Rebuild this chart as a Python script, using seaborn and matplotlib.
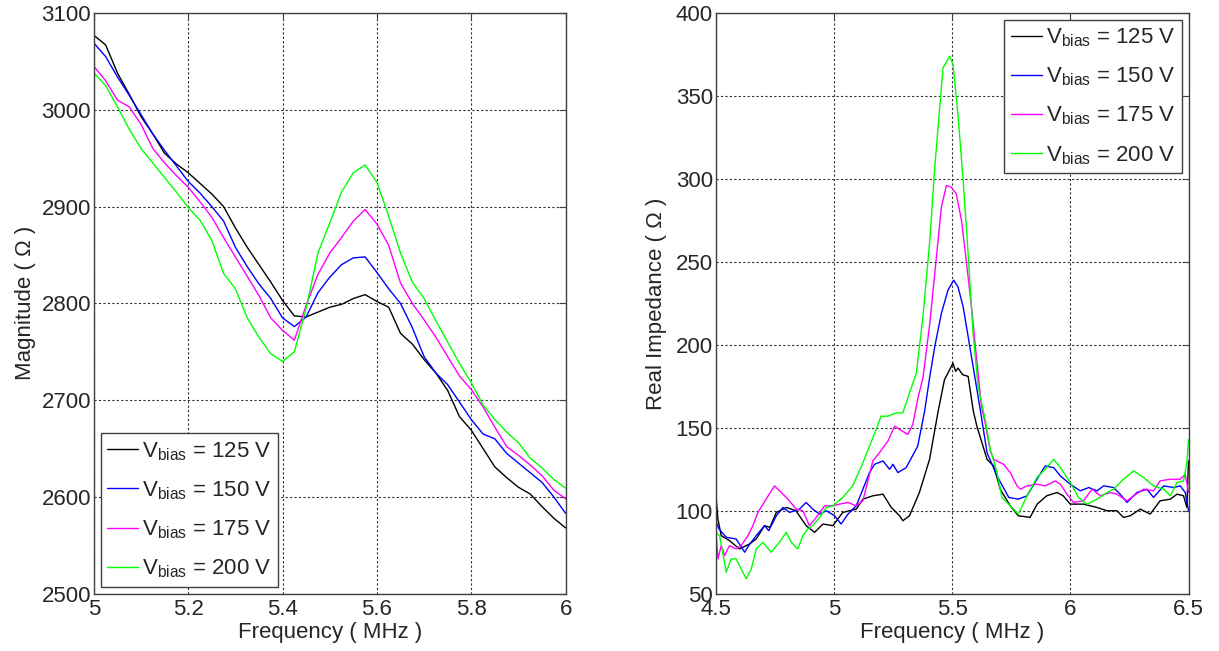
import numpy as np
import pandas as pd
import matplotlib
matplotlib.use('Agg')
import matplotlib.pyplot as plt
import seaborn as sns

# ------------------------------------------------------------------
# data
# ------------------------------------------------------------------

# left panel: impedance magnitude, 5 - 6 MHz (0.025 MHz steps)
freq_mag = [5.000, 5.025, 5.050, 5.075, 5.100, 5.125, 5.150, 5.175, 5.200, 5.225,
            5.250, 5.275, 5.300, 5.325, 5.350, 5.375, 5.400, 5.425, 5.450, 5.475,
            5.500, 5.525, 5.550, 5.575, 5.600, 5.625, 5.650, 5.675, 5.700, 5.725,
            5.750, 5.775, 5.800, 5.825, 5.850, 5.875, 5.900, 5.925, 5.950, 5.975,
            6.000]
mag_125 = [3077, 3067, 3038, 3016, 2993, 2975, 2955, 2944, 2935, 2924,
           2913, 2900, 2878, 2858, 2840, 2822, 2803, 2787, 2786, 2791,
           2796, 2799, 2805, 2809, 2802, 2796, 2769, 2758, 2742, 2728,
           2710, 2683, 2669, 2650, 2631, 2620, 2610, 2603, 2590, 2578,
           2568]
mag_150 = [3069, 3055, 3034, 3015, 2995, 2975, 2958, 2942, 2926, 2914,
           2900, 2885, 2858, 2838, 2820, 2805, 2785, 2776, 2786, 2811,
           2827, 2840, 2847, 2848, 2832, 2815, 2800, 2775, 2745, 2728,
           2716, 2698, 2680, 2665, 2660, 2645, 2635, 2625, 2615, 2600,
           2583]
mag_175 = [3045, 3030, 3010, 3003, 2985, 2960, 2945, 2932, 2920, 2905,
           2889, 2868, 2848, 2828, 2808, 2785, 2772, 2762, 2798, 2830,
           2852, 2868, 2885, 2897, 2882, 2860, 2821, 2800, 2783, 2765,
           2745, 2725, 2711, 2693, 2672, 2652, 2643, 2633, 2622, 2607,
           2598]
mag_200 = [3038, 3025, 3003, 2980, 2960, 2945, 2930, 2915, 2899, 2886,
           2865, 2831, 2815, 2785, 2765, 2748, 2740, 2750, 2795, 2852,
           2883, 2915, 2935, 2943, 2925, 2890, 2852, 2822, 2805, 2782,
           2760, 2738, 2718, 2695, 2680, 2667, 2656, 2640, 2630, 2618,
           2609]

# right panel: real impedance, 4.5 - 6.5 MHz
freq_125 = [4.500, 4.503, 4.510, 4.524, 4.559, 4.601, 4.644, 4.672, 4.707, 4.730,
            4.757, 4.800, 4.840, 4.883, 4.919, 4.954, 4.996, 5.038, 5.095, 5.123,
            5.165, 5.208, 5.243, 5.278, 5.292, 5.320, 5.362, 5.405, 5.440, 5.468,
            5.490, 5.504, 5.515, 5.525, 5.545, 5.568, 5.590, 5.605, 5.648, 5.676,
            5.704, 5.746, 5.780, 5.830, 5.860, 5.900, 5.944, 5.970, 6.000, 6.056,
            6.113, 6.155, 6.197, 6.225, 6.254, 6.296, 6.338, 6.380, 6.423, 6.451,
            6.479, 6.493, 6.500]
real_125 = [100, 107, 95, 85, 82, 77, 80, 83, 91, 90,
            99, 102, 100, 91, 87, 92, 91, 99, 101, 107,
            109, 110, 102, 97, 94, 97, 111, 131, 159, 179,
            185, 189, 184, 186, 182, 181, 160, 151, 131, 127,
            113, 103, 97, 96, 104, 109, 111, 109, 104, 104,
            102, 100, 100, 96, 97, 101, 98, 106, 107, 110,
            109, 102, 130]

freq_150 = [4.500, 4.515, 4.545, 4.587, 4.623, 4.640, 4.672, 4.707, 4.725, 4.757,
            4.785, 4.813, 4.855, 4.883, 4.911, 4.940, 4.968, 5.003, 5.031, 5.060,
            5.095, 5.123, 5.151, 5.172, 5.208, 5.236, 5.250, 5.271, 5.306, 5.355,
            5.384, 5.405, 5.427, 5.455, 5.483, 5.507, 5.525, 5.547, 5.568, 5.589,
            5.617, 5.648, 5.690, 5.740, 5.780, 5.817, 5.859, 5.894, 5.930, 5.958,
            6.000, 6.042, 6.078, 6.113, 6.141, 6.183, 6.211, 6.240, 6.282, 6.324,
            6.352, 6.395, 6.437, 6.465, 6.486, 6.500]
real_150 = [94, 89, 84, 83, 75, 79, 85, 91, 88, 97,
            102, 99, 101, 105, 101, 98, 100, 97, 92, 98,
            103, 113, 123, 128, 130, 125, 128, 123, 126, 139,
            160, 180, 199, 219, 233, 239, 235, 223, 205, 187,
            163, 135, 121, 108, 107, 109, 119, 127, 126, 121,
            116, 112, 114, 112, 115, 114, 110, 105, 111, 113,
            108, 115, 114, 115, 111, 100]

freq_175 = [4.500, 4.510, 4.524, 4.538, 4.559, 4.587, 4.608, 4.637, 4.658, 4.679,
            4.714, 4.749, 4.778, 4.806, 4.841, 4.869, 4.897, 4.926, 4.961, 4.996,
            5.024, 5.060, 5.095, 5.123, 5.144, 5.165, 5.193, 5.229, 5.257, 5.278,
            5.313, 5.334, 5.356, 5.377, 5.406, 5.434, 5.455, 5.476, 5.497, 5.518,
            5.540, 5.560, 5.582, 5.603, 5.624, 5.640, 5.662, 5.676, 5.718, 5.746,
            5.775, 5.789, 5.817, 5.859, 5.894, 5.937, 5.958, 5.986, 6.014, 6.056,
            6.092, 6.127, 6.169, 6.197, 6.240, 6.268, 6.310, 6.352, 6.380, 6.423,
            6.465, 6.486, 6.500]
real_175 = [91, 71, 79, 73, 79, 77, 79, 85, 91, 99,
            107, 115, 111, 107, 101, 100, 91, 96, 103, 103,
            104, 105, 103, 106, 118, 130, 135, 142, 151, 149,
            146, 152, 168, 180, 213, 253, 283, 296, 295, 291,
            275, 251, 223, 193, 163, 153, 136, 131, 128, 123,
            115, 113, 115, 116, 115, 118, 116, 110, 105, 106,
            113, 109, 111, 110, 106, 109, 113, 112, 118, 119,
            119, 122, 111]

freq_200 = [4.500, 4.517, 4.545, 4.566, 4.587, 4.608, 4.630, 4.651, 4.672, 4.700,
            4.735, 4.770, 4.799, 4.820, 4.848, 4.869, 4.890, 4.911, 4.940, 4.968,
            4.996, 5.038, 5.080, 5.123, 5.151, 5.179, 5.200, 5.229, 5.264, 5.292,
            5.320, 5.349, 5.377, 5.406, 5.427, 5.448, 5.462, 5.490, 5.504, 5.525,
            5.547, 5.568, 5.589, 5.610, 5.625, 5.640, 5.662, 5.690, 5.711, 5.746,
            5.780, 5.817, 5.859, 5.894, 5.930, 5.958, 6.000, 6.035, 6.070, 6.113,
            6.155, 6.183, 6.225, 6.268, 6.310, 6.352, 6.395, 6.423, 6.451, 6.479,
            6.493, 6.500]
real_200 = [87, 85, 63, 71, 71, 65, 59, 65, 77, 81,
            75, 81, 87, 81, 77, 85, 89, 91, 96, 102,
            103, 108, 115, 129, 139, 149, 157, 157, 159, 159,
            171, 183, 217, 263, 307, 343, 367, 374, 369, 339,
            299, 255, 207, 175, 165, 155, 137, 123, 108, 103,
            98, 109, 120, 125, 131, 126, 117, 108, 104, 107,
            111, 113, 119, 124, 120, 115, 113, 109, 117, 118,
            129, 143]

bias_labels = ['125', '150', '175', '200']
line_colors = ['#000000', '#0000ff', '#ff00ff', '#00ff00']

# ------------------------------------------------------------------
# style
# ------------------------------------------------------------------
sns.set_style('white')
plt.rcParams['font.family'] = ['Liberation Sans', 'DejaVu Sans']
plt.rcParams['mathtext.fontset'] = 'custom'
plt.rcParams['mathtext.rm'] = 'Liberation Sans'
plt.rcParams['mathtext.it'] = 'Liberation Sans'
plt.rcParams['xtick.direction'] = 'in'
plt.rcParams['ytick.direction'] = 'in'

FS = 16
LEG_KW = dict(fontsize=16, handlelength=1.4, handletextpad=0.15,
              labelspacing=0.75, borderpad=0.3, borderaxespad=0.3,
              fancybox=False, framealpha=1, edgecolor='#404040')


def legend_label(v):
    return r'$\mathrm{V_{bias}}$ = ' + v + ' V'


def style_axes(ax):
    ax.grid(True, linestyle=(0, (2, 2)), color='#303030', linewidth=0.8)
    ax.tick_params(axis='both', which='both', labelsize=FS, length=5,
                   top=True, right=True, color='#404040')
    ax.tick_params(axis='x', pad=4)
    ax.tick_params(axis='y', pad=2)
    for sp in ax.spines.values():
        sp.set_color('#404040')
        sp.set_linewidth(1.0)
    ax.set_xlabel('Frequency ( MHz )', fontsize=FS, labelpad=1)


fig = plt.figure(figsize=(12.19, 6.51), dpi=100)
ax1 = fig.add_axes([0.077, 0.088, 0.387, 0.892])
ax2 = fig.add_axes([0.587, 0.088, 0.388, 0.892])

# left panel
mag_series = [mag_125, mag_150, mag_175, mag_200]
for vals, lab, col in zip(mag_series, bias_labels, line_colors):
    sns.lineplot(x=freq_mag, y=vals, ax=ax1, color=col, linewidth=1.0,
                 label=legend_label(lab), sort=False, estimator=None)
ax1.set_xlim(5, 6)
ax1.set_ylim(2500, 3100)
ax1.set_xticks([5, 5.2, 5.4, 5.6, 5.8, 6])
ax1.set_xticklabels(['5', '5.2', '5.4', '5.6', '5.8', '6'])
ax1.set_yticks([2500, 2600, 2700, 2800, 2900, 3000, 3100])
ax1.set_ylabel('Magnitude ( \u03a9 )', fontsize=FS, labelpad=4)
style_axes(ax1)
leg1 = ax1.legend(loc='lower left', **LEG_KW)

# right panel
real_x = [freq_125, freq_150, freq_175, freq_200]
real_y = [real_125, real_150, real_175, real_200]
for xs, ys, lab, col in zip(real_x, real_y, bias_labels, line_colors):
    sns.lineplot(x=xs, y=ys, ax=ax2, color=col, linewidth=1.0,
                 label=legend_label(lab), sort=False, estimator=None)
ax2.set_xlim(4.5, 6.5)
ax2.set_ylim(50, 400)
ax2.set_xticks([4.5, 5, 5.5, 6, 6.5])
ax2.set_xticklabels(['4.5', '5', '5.5', '6', '6.5'])
ax2.set_yticks([50, 100, 150, 200, 250, 300, 350, 400])
ax2.set_ylabel('Real Impedance ( \u03a9 )', fontsize=FS, labelpad=6)
style_axes(ax2)
leg2 = ax2.legend(loc='upper right', **LEG_KW)

for leg in (leg1, leg2):
    leg.get_frame().set_linewidth(1.0)

fig.savefig('out.png', dpi=100)
